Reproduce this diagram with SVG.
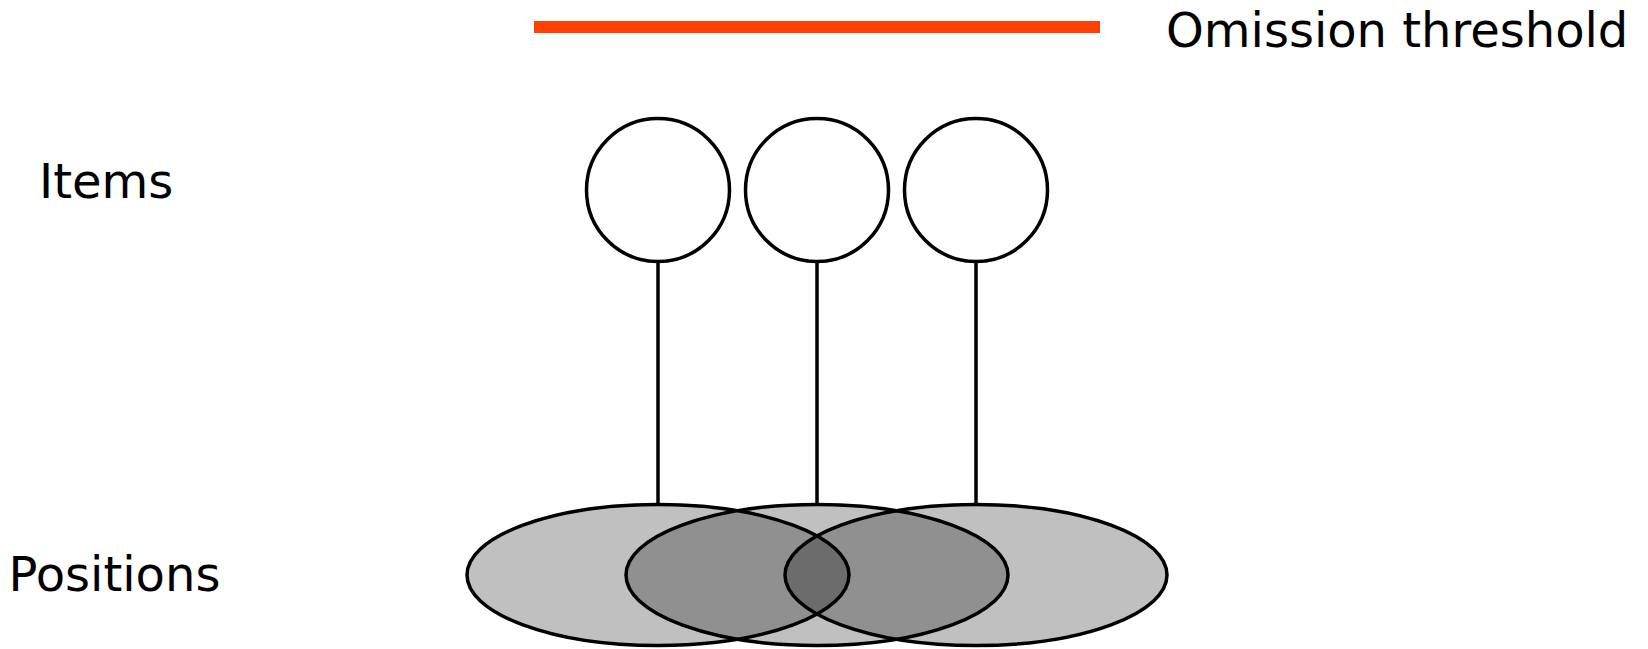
<svg xmlns="http://www.w3.org/2000/svg" width="1648" height="649" viewBox="0 0 1648 649">
<style>
.lbl{font-family:"DejaVu Sans",sans-serif;font-size:48px;fill:#000}
.item{fill:#fff;stroke:#000;stroke-width:3.5}
.pos{fill:#000;fill-opacity:0.247;stroke:#000;stroke-width:3.5}
.conn{stroke:#000;stroke-width:3.5;fill:none}
</style>
<rect width="1648" height="649" fill="#fff"/>
<g id="threshold">
<line x1="534" y1="27" x2="1100" y2="27" stroke="#ff4000" stroke-width="12"/>
<text class="lbl" x="1166" y="47">Omission threshold</text>
</g>
<text class="lbl" x="39" y="198">Items</text>
<text class="lbl" x="8.5" y="591">Positions</text>
<g id="positions">
<ellipse id="pos1" class="pos" cx="658" cy="575" rx="191" ry="70.5"/>
<ellipse id="pos2" class="pos" cx="817" cy="575" rx="191" ry="70.5"/>
<ellipse id="pos3" class="pos" cx="976" cy="575" rx="191" ry="70.5"/>
</g>
<g id="connectors">
<line class="conn" x1="658" y1="261.5" x2="658" y2="504.5"/>
<line class="conn" x1="817" y1="261.5" x2="817" y2="504.5"/>
<line class="conn" x1="976" y1="261.5" x2="976" y2="504.5"/>
</g>
<g id="item1"><circle class="item" cx="658" cy="190" r="71.5"/></g>
<g id="item2"><circle class="item" cx="817" cy="190" r="71.5"/></g>
<g id="item3"><circle class="item" cx="976" cy="190" r="71.5"/></g>
</svg>
